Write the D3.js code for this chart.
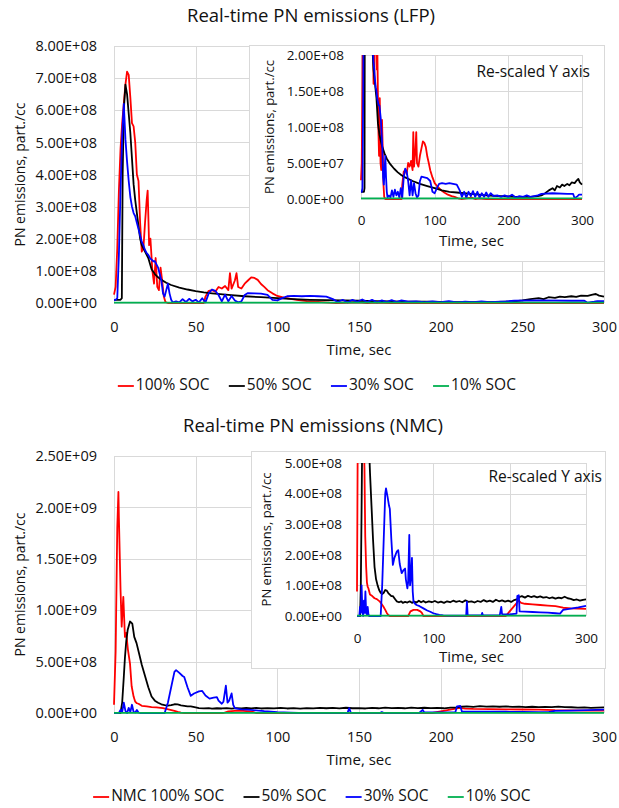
<!DOCTYPE html>
<html lang="en">
<head>
    <meta charset="UTF-8">
    <title>Real-time PN emissions - LFP and NMC</title>
    <script src="https://d3js.org/d3.v7.min.js"></script>
    <style>
        body {
            margin: 0;
            background: #fff;
            font-family: "Open Sans", "Noto Sans", sans-serif;
        }
        .grid line { stroke: #d9d9d9; stroke-width: 1; }
        .tick text { fill: #111; }
        .series { fill: none; stroke-width: 1.8; stroke-linejoin: round; }
        .label { fill: #111; }
    </style>
</head>
<body>
<div id="chart"></div>
<script>
    // values are in units of 1E+07 part./cc, time in seconds
    const lfp100 = [[0,2.6],[1,5],[2,17],[3,35],[4,48],[5,56],[6,62],[7,68],[8,72],[9,71],[10,64],[11,56],[12,55],[13,50],
        [14,40],[15,38],[16,25],[17,16],[18,17],[19,25],[20,32],[20.6,35],[21.5,18],[22.3,20],[23.5,10],[24.5,6],[25.5,14],
        [26.5,5],[27.5,4],[28.5,11],[29.5,7],[30.5,2],[31.5,0.3],[33,0],[55,0],[56,2],[58,3.8],[60,4],[62,3.5],[64,5],
        [66,4.5],[68,5.3],[70,4],[71,9.3],[72,4.5],[74,7],[75,9.3],[76,5],[78,4.5],[80,6],[82,7],[84,8],[86,7.8],[88,7.2],
        [90,5.9],[92,5],[94,4],[97,3],[100,2.2],[104,1.7],[109,1.2],[113,0.9],[118,0.6],[123,0.4],[127,0.3],[132,0.1],
        [136,0],[150,0.2],[155,0],[160,0.1],[170,0],[300,0]];
    const lfp50 = [[0,1],[2,1],[4,1],[4.8,1.5],[5.3,40],[6,60],[7,68],[8,65],[9,59],[10,53],[11,45],[12,37],[13,32],[14,28],
        [15,24],[16,20],[17,18],[19,16],[21,14],[23,10.5],[25,9],[27,8],[29,7.2],[32,6.3],[35,5.6],[40,4.8],[45,4.2],
        [50,3.7],[55,3.3],[60,3],[70,2.5],[80,2.1],[90,1.8],[100,1.5],[110,1.2],[120,1],[130,0.9],[140,0.8],[150,0.7],
        [160,0.6],[170,0.5],[180,0.45],[190,0.4],[200,0.35],[210,0.3],[220,0.3],[230,0.3],[240,0.4],[245,0.5],[250,0.8],
        [255,1.2],[260,1.5],[263,1.2],[266,1.8],[270,1.6],[273,2],[276,1.8],[280,2.1],[283,1.9],[286,2.3],[290,2.2],
        [293,2.6],[295,2.8],[297,2.3],[300,2]];
    const lfp30 = [[0,1],[1,1],[2,1.5],[3,15],[4,35],[5,52],[6,62],[7,51],[8,44],[9,38],[10,33],[11,30],[12,28],[13,27],
        [14,25],[15,23],[16,21],[17,19],[18,18],[19,16.5],[20,15.5],[21,15],[22,14],[23,13.5],[24,13],[25,13],[26,12],
        [27,11],[28,9],[29,7],[30,3],[31,2],[32,4],[33,6],[34,3],[35,1],[36,0.2],[38,0.5],[40,0.2],[42,1.2],[44,0.3],
        [46,1.3],[48,0.5],[50,1],[52,0.2],[54,1.5],[56,0.2],[58,3],[60,4.2],[62,3.8],[64,2.5],[66,0.5],[68,2.6],[70,0.5],
        [72,2.2],[74,0.8],[76,0.2],[78,0.5],[80,2.5],[82,3.1],[86,3],[90,2.9],[94,2.5],[97,1],[100,0.8],[103,1.5],
        [106,2.1],[110,2.2],[115,2.1],[120,2.2],[125,2.1],[130,2],[134,1.2],[137,0.3],[140,1],[143,0.2],[146,1],
        [149,0.4],[152,1.1],[155,0.3],[158,1],[161,0.2],[164,0.8],[167,0.3],[170,0.9],[173,0.3],[176,0.8],[180,0.4],
        [185,0.5],[190,0.3],[195,0.5],[200,0.3],[205,0.6],[210,0.2],[215,0.4],[220,0.3],[225,0.5],[230,0.3],[240,0.5],
        [245,0.7],[260,0.8],[280,0.7],[288,0.7],[290,0.1],[294,0.4],[296,0.6],[300,0.6]];
    const lfp10 = [[0,0.1],[50,0.1],[100,0.1],[150,0.1],[200,0.1],[250,0.1],[300,0.1]];

    const nmc100 = [[0,8],[1,60],[2,180],[2.7,215],[3,190],[4,120],[4.7,84],[5.7,113],[6.7,74],[7.5,78],[8.5,62],[9.8,48],
        [10.8,26],[12,16],[13,11],[14,9.5],[15,9],[17,7],[20,6.5],[23,5.8],[26,5.5],[30,4.7],[32,4],[34.5,3.1],[37,2],
        [39,1],[41,0.3],[43,0],[67,0],[70,1.5],[74,2],[79,2],[83,1.5],[85,1],[87,0],[195,0],[200,1.5],[205,3],[210,4.5],
        [212,5],[215,4.3],[220,4],[230,3.8],[240,3.6],[250,3.4],[260,3.2],[265,3],[270,2.7],[280,2.5],[290,2.4],[300,2.3]];
    const nmc50 = [[0,0],[4,0],[5,10],[6,35],[6.7,54],[7.5,70],[8.4,81],[9.8,89],[11.2,87],[12.4,74],[13.8,68],[15.8,55],
        [17,47],[19,36],[21,25],[23,16],[25,12],[27,10],[29,8.5],[31,7.6],[33,7.2],[35,7.6],[37,8.5],[39,8.3],[41,7.5],
        [43,7],[45,6.5],[47,6.5],[50,5.5],[52,4.8],[55,4.5],[58,4.8],[60,4.3],[63,4.6],[66,4.4],[69,4.8],[72,4.3],
        [75,4.7],[78,4.4],[81,5],[84,4.5],[87,4.9],[90,4.4],[94,4.8],[98,4.5],[102,4.9],[106,4.4],[110,4.7],[114,4.3],
        [118,4.8],[122,4.5],[126,5],[130,4.6],[134,4.9],[138,4.5],[142,5.1],[146,4.6],[150,4.8],[154,4.4],[158,4.9],
        [162,4.6],[166,5.2],[170,4.7],[174,5],[178,4.6],[182,5.3],[186,4.8],[190,5.1],[194,4.7],[198,5],[202,4.6],
        [206,5.2],[210,5.5],[213,6.2],[216,6.5],[220,6],[224,6.6],[228,6.2],[232,6.5],[236,6.1],[240,6.4],[244,6],
        [248,6.2],[252,5.8],[256,6.1],[260,5.7],[264,6],[268,5.8],[272,6.3],[276,5.8],[280,5.6],[284,5.2],[288,5.4],
        [292,5],[296,5.3],[300,5.4]];
    const nmc30 = [[0,0],[3,0],[4,3],[5,1],[6,10],[7,2],[8,0],[9,5],[10,1],[11,8],[12,1],[13,0.5],[14,3],[15,0.5],[16,0],
        [31,0],[33,10],[35,25],[37,40],[38,41.7],[40,39],[42,36],[43,35],[45,25],[47,16.7],[49,19],[52,21],[54,21.5],
        [56,17],[58.5,14],[61,15],[63,15.5],[64,12],[66,9],[67,11],[68.5,26.5],[69.5,10],[70.5,12],[72,19],[73,8],
        [74,4.7],[76,4],[78,3.6],[82,3.2],[87,2.5],[92,1.8],[96,1.4],[100,0.9],[104,0.6],[108,0.4],[113,0.2],[120,0.1],
        [143,0.1],[144,4.7],[145,0.3],[163,0.2],[164,1],[165,0.2],[187,0.2],[189,3],[190,0.6],[200,0.5],[209,0.8],
        [210,6.5],[212,6.8],[213,1.5],[220,1.4],[230,1.3],[240,1.2],[250,1.1],[260,0.9],[266,0.8],[270,2],[280,2.4],
        [290,2.8],[300,3.3]];
    const nmc10 = [[0,0.1],[50,0.1],[100,0.1],[150,0.1],[200,0.1],[250,0.1],[300,0.1]];

    const unit = 1e7;
    const timeTicks = [0, 50, 100, 150, 200, 250, 300];
    const insetTimeTicks = [0, 100, 200, 300];
    const lfpTicks = [0, 1e8, 2e8, 3e8, 4e8, 5e8, 6e8, 7e8, 8e8];
    const lfpInsetTicks = [0, 5e7, 1e8, 1.5e8, 2e8];
    const nmcTicks = [0, 5e8, 1e9, 1.5e9, 2e9, 2.5e9];
    const nmcInsetTicks = [0, 1e8, 2e8, 3e8, 4e8, 5e8];

    const lfpNames = ["100% SOC", "50% SOC", "30% SOC", "10% SOC"];
    const nmcNames = ["NMC 100% SOC", "50% SOC", "30% SOC", "10% SOC"];
    const colors = ["#ff0000", "#000000", "#0000ff", "#00b050"];

    const svg = d3.select("#chart").append("svg")
        .attr("width", 619)
        .attr("height", 808);

    // Excel style scientific label, e.g. 5.00E+08
    function sci(d) {
        if (d === 0) return "0.00E+00";
        const e = Math.floor(Math.log10(d) + 1e-9);
        return (d / Math.pow(10, e)).toFixed(2) + "E+" + String(e).padStart(2, "0");
    }

    let clipCount = 0;

    function panel(o) {
        const x = d3.scaleLinear().domain([0, 300]).range([o.x0, o.x1]);
        const y = d3.scaleLinear().domain([0, o.ymax]).range([o.y0, o.y1]);
        const g = svg.append("g");

        if (o.box) {
            g.append("rect")
                .attr("x", o.box[0] + 0.5).attr("y", o.box[1] + 0.5)
                .attr("width", o.box[2] - o.box[0]).attr("height", o.box[3] - o.box[1])
                .attr("fill", "#fff").attr("stroke", "#d9d9d9");
        }

        const grid = g.append("g").attr("class", "grid");
        grid.selectAll(".h").data(o.yTicks).join("line")
            .attr("x1", o.x0).attr("x2", o.x1)
            .attr("y1", d => Math.round(y(d)) + 0.5).attr("y2", d => Math.round(y(d)) + 0.5);
        grid.selectAll(".v").data(o.xTicks).join("line")
            .attr("x1", d => Math.round(x(d)) + 0.5).attr("x2", d => Math.round(x(d)) + 0.5)
            .attr("y1", o.y1).attr("y2", o.y0);

        const id = "clip" + (clipCount++);
        g.append("clipPath").attr("id", id).append("rect")
            .attr("x", o.x0 - 2).attr("y", o.y1).attr("width", o.x1 - o.x0 + 4).attr("height", o.y0 - o.y1 + 2);

        const line = d3.line().x(d => x(d[0])).y(d => y(d[1] * unit));
        g.append("g").attr("clip-path", `url(#${id})`)
            .selectAll("path").data(o.series).join("path")
            .attr("class", "series")
            .attr("stroke", (d, i) => colors[i])
            .attr("d", line);

        const xAxis = g.append("g")
            .attr("transform", `translate(0,${o.y0})`)
            .call(d3.axisBottom(x).tickValues(o.xTicks).tickSize(0).tickPadding(o.xPad));
        const yAxis = g.append("g")
            .attr("transform", `translate(${o.x0},0)`)
            .call(d3.axisLeft(y).tickValues(o.yTicks).tickSize(0).tickPadding(o.yPad).tickFormat(sci));
        [xAxis, yAxis].forEach(a => {
            a.select(".domain").remove();
            a.selectAll("text").style("font-size", o.tickFont + "px").style("font-family", "Open Sans");
        });

        g.append("text").attr("class", "label")
            .attr("x", (o.x0 + o.x1) / 2).attr("y", o.xTitleY)
            .attr("text-anchor", "middle").attr("dominant-baseline", "middle")
            .style("font-size", "15px")
            .text("Time, sec");

        g.append("text").attr("class", "label")
            .attr("transform", `translate(${o.yTitleX},${(o.y0 + o.y1) / 2}) rotate(-90)`)
            .attr("text-anchor", "middle").attr("dominant-baseline", "middle")
            .style("font-size", o.yTitleFont + "px")
            .text("PN emissions, part./cc");

        if (o.note) {
            g.append("text").attr("class", "label")
                .attr("x", o.note[0]).attr("y", o.note[1])
                .attr("text-anchor", "end").attr("dominant-baseline", "middle")
                .style("font-size", "15.5px")
                .text("Re-scaled Y axis");
        }
    }

    function title(text, cx, cy) {
        svg.append("text").attr("class", "label")
            .attr("x", cx).attr("y", cy)
            .attr("text-anchor", "middle").attr("dominant-baseline", "middle")
            .style("font-size", "18.5px")
            .text(text);
    }

    function legend(names, cx, cy) {
        const g = svg.append("g");
        const items = g.selectAll("g").data(names).join("g");
        items.append("line")
            .attr("x1", 0).attr("x2", 16).attr("y1", cy).attr("y2", cy)
            .attr("stroke", (d, i) => colors[i]).attr("stroke-width", 1.8);
        items.append("text").attr("class", "label")
            .attr("x", 18).attr("y", cy)
            .attr("dominant-baseline", "middle")
            .style("font-size", "15.5px")
            .text(d => d);
        const widths = [];
        items.each(function () { widths.push(this.getBBox().width); });
        const gap = 19;
        const total = d3.sum(widths) + gap * (widths.length - 1);
        let pos = cx - total / 2;
        items.attr("transform", (d, i) => {
            const t = `translate(${pos},0)`;
            pos += widths[i] + gap;
            return t;
        });
    }

    // LFP
    title("Real-time PN emissions (LFP)", 311, 17);
    panel({
        x0: 114, x1: 604, y0: 303, y1: 46, ymax: 8e8,
        xTicks: timeTicks, yTicks: lfpTicks, xPad: 19, yPad: 17, tickFont: 14.5,
        series: [lfp100, lfp50, lfp30, lfp10],
        xTitleY: 351, yTitleX: 21, yTitleFont: 14
    });
    panel({
        box: [249, 45, 604, 261],
        x0: 361, x1: 582, y0: 199, y1: 55, ymax: 2e8,
        xTicks: insetTimeTicks, yTicks: lfpInsetTicks, xPad: 16, yPad: 17, tickFont: 13.5,
        series: [lfp100, lfp50, lfp30, lfp10],
        xTitleY: 242, yTitleX: 271, yTitleFont: 13,
        note: [590, 73]
    });
    legend(lfpNames, 317, 386);

    // NMC
    title("Real-time PN emissions (NMC)", 313, 427);
    panel({
        x0: 114, x1: 604, y0: 713, y1: 456, ymax: 2.5e9,
        xTicks: timeTicks, yTicks: nmcTicks, xPad: 19, yPad: 17, tickFont: 14.5,
        series: [nmc100, nmc50, nmc30, nmc10],
        xTitleY: 761, yTitleX: 21, yTitleFont: 14
    });
    panel({
        box: [251, 451, 605, 668],
        x0: 357, x1: 586, y0: 616, y1: 463, ymax: 5e8,
        xTicks: insetTimeTicks, yTicks: nmcInsetTicks, xPad: 17, yPad: 15, tickFont: 13.5,
        series: [nmc100, nmc50, nmc30, nmc10],
        xTitleY: 658, yTitleX: 268, yTitleFont: 13,
        note: [602, 478]
    });
    legend(nmcNames, 312, 797);
</script>
</body>
</html>
